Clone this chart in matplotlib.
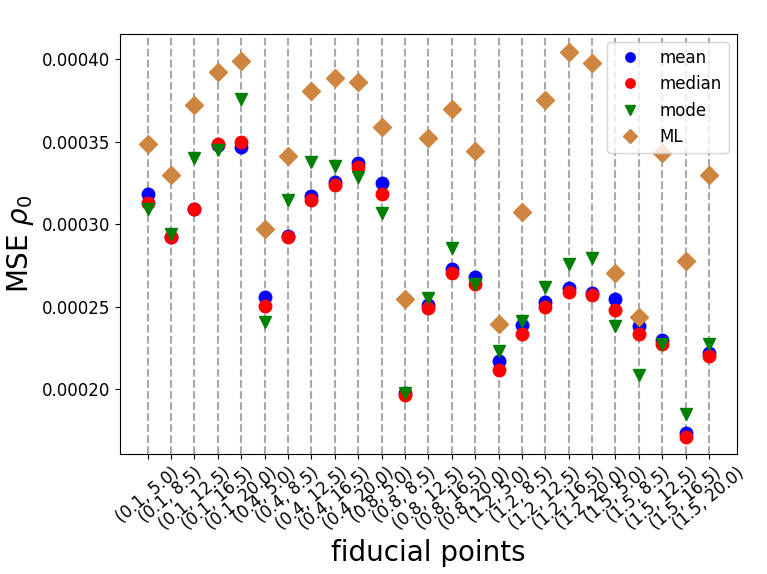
import matplotlib
matplotlib.use('Agg')
import matplotlib.pyplot as plt
import numpy as np

# fiducial points (Om, sigma) and MSE of rho_0 for each estimator
fiducials = ['(0.1, 5.0)', '(0.1, 8.5)', '(0.1, 12.5)', '(0.1, 16.5)', '(0.1, 20.0)',
             '(0.4, 5.0)', '(0.4, 8.5)', '(0.4, 12.5)', '(0.4, 16.5)', '(0.4, 20.0)',
             '(0.8, 5.0)', '(0.8, 8.5)', '(0.8, 12.5)', '(0.8, 16.5)', '(0.8, 20.0)',
             '(1.2, 5.0)', '(1.2, 8.5)', '(1.2, 12.5)', '(1.2, 16.5)', '(1.2, 20.0)',
             '(1.5, 5.0)', '(1.5, 8.5)', '(1.5, 12.5)', '(1.5, 16.5)', '(1.5, 20.0)']

mse_mean = [0.0003183, 0.0002921, 0.0003091, 0.0003482, 0.0003470,
            0.0002561, 0.0002927, 0.0003171, 0.0003256, 0.0003372,
            0.0003250, 0.0001975, 0.0002512, 0.0002726, 0.0002677,
            0.0002170, 0.0002390, 0.0002530, 0.0002610, 0.0002585,
            0.0002543, 0.0002384, 0.0002299, 0.0001732, 0.0002219]
mse_median = [0.0003128, 0.0002921, 0.0003091, 0.0003488, 0.0003500,
              0.0002506, 0.0002921, 0.0003146, 0.0003238, 0.0003348,
              0.0003183, 0.0001963, 0.0002494, 0.0002701, 0.0002634,
              0.0002116, 0.0002335, 0.0002500, 0.0002591, 0.0002573,
              0.0002482, 0.0002335, 0.0002274, 0.0001707, 0.0002201]
mse_mode = [0.0003091, 0.0002939, 0.0003402, 0.0003451, 0.0003762,
            0.0002408, 0.0003146, 0.0003378, 0.0003354, 0.0003287,
            0.0003067, 0.0001975, 0.0002555, 0.0002854, 0.0002634,
            0.0002232, 0.0002415, 0.0002616, 0.0002756, 0.0002793,
            0.0002384, 0.0002085, 0.0002274, 0.0001847, 0.0002274]
mse_ml = [0.0003488, 0.0003299, 0.0003726, 0.0003921, 0.0003988,
          0.0002969, 0.0003415, 0.0003811, 0.0003890, 0.0003860,
          0.0003591, 0.0002543, 0.0003524, 0.0003701, 0.0003445,
          0.0002396, 0.0003073, 0.0003756, 0.0004043, 0.0003976,
          0.0002701, 0.0002439, 0.0003433, 0.0002774, 0.0003299]

fig = plt.figure(figsize=(7.67, 5.74), dpi=100)
ax = fig.add_axes([0.156, 0.209, 0.805, 0.732])

x = np.arange(len(fiducials))
for xi in x:
    ax.axvline(xi, color='darkgray', linestyle='--', linewidth=1.5, zorder=0)

ax.plot(x, mse_mean, 'o', color='blue', markersize=9, label='mean')
ax.plot(x, mse_median, 'o', color='red', markersize=9, label='median')
ax.plot(x, mse_mode, 'v', color='green', markersize=9, label='mode')
ax.plot(x, mse_ml, 'D', color='peru', markersize=9, label='ML')

ax.set_xticks(x)
ax.set_xticklabels(fiducials, rotation=40, fontsize=12)
ax.tick_params(axis='y', labelsize=12)
ax.set_xlim(-1.2, 25.2)
ax.set_ylim(0.0001605, 0.0004155)
ax.set_xlabel('fiducial points', fontsize=20)
ax.set_ylabel(r'MSE $\rho_0$', fontsize=20)
ax.legend(loc='upper right', fontsize=12, markerscale=0.75)

fig.savefig('out.png', dpi=100)
